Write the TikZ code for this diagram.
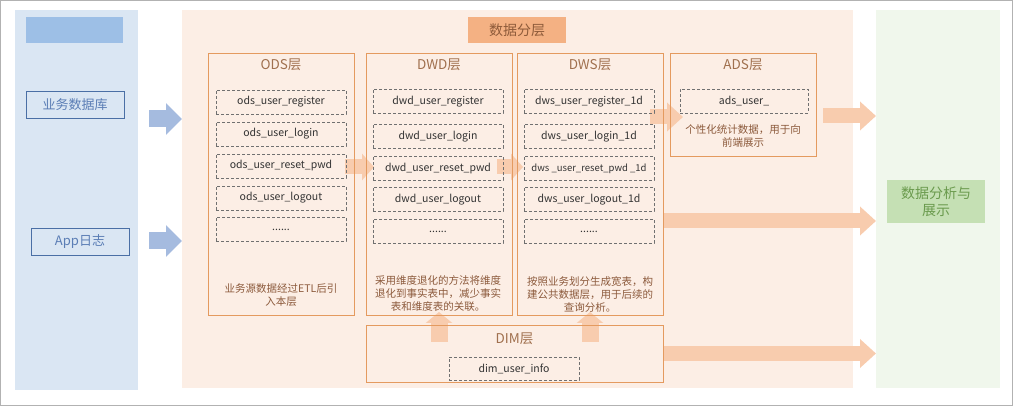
\documentclass[tikz,border=0pt]{standalone}
\usepackage{fontspec}
\setmainfont{Noto Sans CJK SC}
\usetikzlibrary{arrows.meta,calc}

\definecolor{srcbg}{HTML}{DAE6F3}
\definecolor{srchead}{HTML}{9DBFE6}
\definecolor{srcline}{HTML}{4A6FA5}
\definecolor{srctext}{HTML}{5A7DB5}
\definecolor{flowblue}{HTML}{A5BBDF}
\definecolor{midbg}{HTML}{FCEEE5}
\definecolor{midhead}{HTML}{F4B183}
\definecolor{headtext}{HTML}{8E5B3A}
\definecolor{layerline}{HTML}{E49A5F}
\definecolor{titlebrown}{HTML}{A0704E}
\definecolor{descbrown}{HTML}{8C5A3C}
\definecolor{tblline}{HTML}{707070}
\definecolor{tbltext}{HTML}{333333}
\definecolor{flowpeach}{HTML}{F8CCAE}
\definecolor{outbg}{HTML}{F0F7EC}
\definecolor{outhead}{HTML}{C5E0B4}
\definecolor{outtext}{HTML}{6B9B4E}

\newcommand\moredots{......}

\pgfdeclarelayer{panel}
\pgfdeclarelayer{flows}
\pgfsetlayers{panel,flows,main}

\begin{document}
\begin{tikzpicture}[
        x=1pt, y=-1pt,
        blk/.style={inner sep=0pt, outer sep=0pt},
        srcbox/.style={blk, draw=srcline, text=srctext, minimum width=98pt, minimum height=27pt, font=\fontsize{13}{15}\selectfont},
        layerbox/.style={blk, draw=layerline, minimum width=146pt},
        tbl/.style={blk, draw=tblline, dash pattern=on 3pt off 2pt, minimum width=130pt, minimum height=24pt, text=tbltext, font=\fontsize{10.5}{12}\selectfont},
        ltitle/.style={text=titlebrown, font=\fontsize{13.5}{15}\selectfont},
        desc/.style={text=descbrown, align=center, font=\fontsize{10.5}{13}\selectfont},
        flow/.style={line width=15pt, draw=flowpeach, -{Triangle[length=16pt,width=28pt]}},
        shortflow/.style={line width=15pt, draw=flowpeach, -{Triangle[length=12pt,width=26pt]}},
        upflow/.style={line width=17pt, draw=flowpeach, -{Triangle[length=11pt,width=26pt]}},
        inflow/.style={line width=17pt, draw=flowblue, -{Triangle[length=16pt,width=31pt]}}
        ]
            \useasboundingbox (0,0) rectangle (1013,406);
            \draw[gray!60, line width=1pt] (0.5,0.5) rectangle (1012.5,405.5);
            
            % panels
            \begin{pgfonlayer}{panel}
                \node[blk, fill=srcbg, minimum width=123pt, minimum height=380pt] (srcpanel) at (76.5,200) {};
                \node[blk, fill=midbg, minimum width=671pt, minimum height=378pt] (midpanel) at (517.5,199) {};
                \node[blk, fill=outbg, minimum width=124pt, minimum height=378pt] (outpanel) at (938,199) {};
            \end{pgfonlayer}
            
            \node[blk, fill=srchead, minimum width=97pt, minimum height=26pt] (srchead) at (74.5,30) {};
            \node[blk, fill=midhead, text=headtext, minimum width=98pt, minimum height=26pt, font=\fontsize{14}{16}\selectfont] (midhead) at (517,30) {数据分层};
            \node[blk, fill=outhead, text=outtext, minimum width=98pt, minimum height=43pt, align=center, font=\fontsize{14}{17}\selectfont] (show) at (936,201.5) {数据分析与\\展示};
            
            % sources
            \node[srcbox] (db) at (75,104.5) {业务数据库};
            \node[srcbox] (applog) at (80,241.5) {App日志};
            
            % layers
            \node[layerbox, minimum height=262pt] (ods) at (281,184) {};
            \node[layerbox, minimum height=262pt] (dwd) at (439,184) {};
            \node[layerbox, minimum height=262pt] (dws) at (590,184) {};
            \node[layerbox, minimum height=103pt] (ads) at (743,104.5) {};
            \node[layerbox, minimum width=297pt, minimum height=57pt] (dim) at (514.5,353.5) {};
            
            \node[ltitle] (odst) at (281,65) {ODS层};
            \node[ltitle] (dwdt) at (439,65) {DWD层};
            \node[ltitle] (dwst) at (590,65) {DWS层};
            \node[ltitle] (adst) at (743,65) {ADS层};
            \node[ltitle] (dimt) at (514.5,339) {DIM层};
            
            \foreach \y/\t [count=\i] in {102/ods\_user\_register, 134/ods\_user\_login, 166/ods\_user\_reset\_pwd, 198/ods\_user\_logout, 229.5/\moredots}
                \node[tbl] (ods\i) at (281,\y) {\t};
            \foreach \y/\t [count=\i] in {101.5/dwd\_user\_register, 136.5/dwd\_user\_login, 168.5/dwd\_user\_reset\_pwd, 199.5/dwd\_user\_logout, 231.5/\moredots}
                \node[tbl] (dwd\i) at (438,\y) {\t};
            \foreach \y/\t [count=\i] in {101.5/dws\_user\_register\_1d, 136.5/dws\_user\_login\_1d, 168.5/{\fontsize{9.5}{11}\selectfont dws \_user\_reset\_pwd \_1d}, 199.5/dws\_user\_logout\_1d, 231.5/\moredots}
                \node[tbl] (dws\i) at (589,\y) {\t};
            \node[tbl, minimum width=128pt] (ads1) at (744,101) {ads\_user\_};
            \node[tbl, minimum height=23pt] (dim1) at (514,368.5) {dim\_user\_info};
            
            \node[desc] (odsd) at (281,295) {业务源数据经过ETL后引\\入本层};
            \node[desc] (dwdd) at (438,294) {采用维度退化的方法将维度\\退化到事实表中，减少事实\\表和维度表的关联。};
            \node[desc] (dwsd) at (590,294) {按照业务划分生成宽表，构\\建公共数据层，用于后续的\\查询分析。};
            \node[desc] (adsd) at (743,136.5) {个性化统计数据，用于向\\前端展示};
            
            % flows
            \begin{pgfonlayer}{flows}
                \coordinate (in1) at (149,119);
                \coordinate (in2) at (149,241);
                \draw[inflow] (in1) -- (midpanel.west |- in1);
                \draw[inflow] (in2) -- (midpanel.west |- in2);
                
                \draw[shortflow] ($(ods.east |- 0,167)+(-9,0)$) -- ($(dwd.west |- 0,167)+(8,0)$);
                \draw[shortflow] ($(dwd.east |- 0,167)+(-15,0)$) -- ($(dws.west |- 0,167)+(6,0)$);
                \draw[flow] ($(dws.east |- 0,117)+(-13,0)$) -- ($(ads.west |- 0,117)+(13,0)$);
                \draw[flow] ($(ads.east |- 0,116)+(7,0)$) -- (outpanel.west |- 0,116);
                \draw[flow] (dws.east |- 0,221) -- (outpanel.west |- 0,221);
                \draw[flow] (dim.east) -- (outpanel.west |- dim.east);
                
                \draw[upflow] ($(dim.north -| dwd.south)+(0,17)$) -- ($(dwd.south)+(0,-3)$);
                \draw[upflow] ($(dim.north -| dws.south)+(0,17)$) -- ($(dws.south)+(0,-3)$);
            \end{pgfonlayer}
        \end{tikzpicture}
\end{document}
